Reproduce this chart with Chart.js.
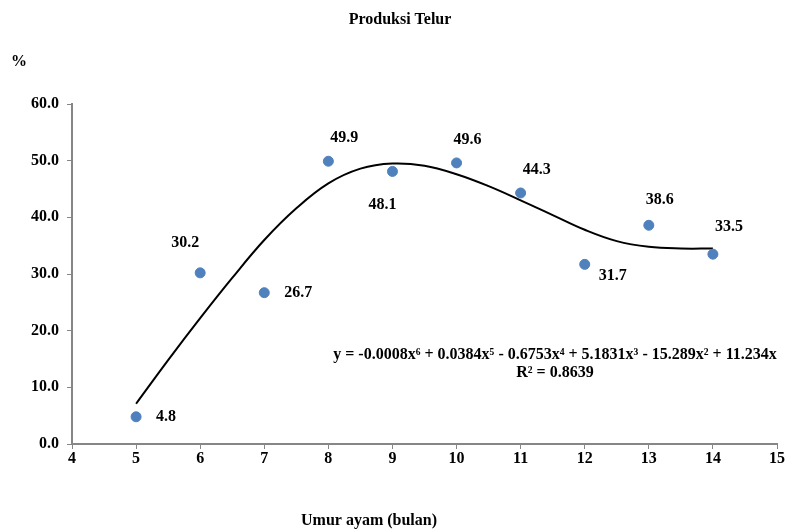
<!DOCTYPE html>
<html>
<head>
<meta charset="utf-8">
<script src="https://cdn.jsdelivr.net/npm/chart.js@4.4.1/dist/chart.umd.min.js"></script>
<style>
  html, body { margin: 0; padding: 0; background: #fff; }
  #wrap { width: 787px; height: 530px; }
</style>
</head>
<body>
<div id="wrap"><canvas id="chart"></canvas></div>
<script>
    // data
    const umur = [5, 6, 7, 8, 9, 10, 11, 12, 13, 14];
    const produksi = [4.8, 30.2, 26.7, 49.9, 48.1, 49.6, 44.3, 31.7, 38.6, 33.5];

    // polynomial trendline
    const trendX = [5, 5.5, 6, 6.5, 7, 7.5, 8, 8.5, 9, 9.5, 10, 10.5, 11, 11.5, 12, 12.5, 13, 13.5, 14];
    const trendY = [7.1, 14.8, 22.2, 29.3, 36.0, 41.6, 46.0, 48.6, 49.5, 49.1, 47.6, 45.5, 43.0, 40.4, 37.8, 35.8, 34.8, 34.5, 34.5];

    const xTicks = [4, 5, 6, 7, 8, 9, 10, 11, 12, 13, 14, 15];
    const yTicks = [0, 10, 20, 30, 40, 50, 60];

    // label offsets from each point (px)
    const labelOffsets = [[30, 0], [-15, -30], [34, 0], [16, -23], [-10, 33], [11, -23], [16, -23], [28, 11], [11, -25], [16, -27]];

    const FONT = 'bold 16px "Liberation Serif", "Times New Roman", serif';
    const axisColor = '#868686';

    const textPlugin = {
        id: 'texts',
        afterDraw(chart) {
            const ctx = chart.ctx;
            const xs = chart.scales.x, ys = chart.scales.y;
            ctx.save();
            ctx.fillStyle = '#000';
            ctx.font = FONT;
            ctx.textAlign = 'center';
            ctx.textBaseline = 'middle';
            ctx.fillText('Produksi Telur', 400, 20);
            ctx.fillText('%', 19, 62);
            ctx.fillText('Umur ayam (bulan)', 369, 521);

            // data labels
            produksi.forEach((v, i) => {
                const px = xs.getPixelForValue(umur[i]);
                const py = ys.getPixelForValue(v);
                const off = labelOffsets[i];
                ctx.fillText(v.toFixed(1), px + off[0], py + off[1]);
            });

            // trendline equation
            ctx.fillText('y = -0.0008x\u2076 + 0.0384x\u2075 - 0.6753x\u2074 + 5.1831x\u00B3 - 15.289x\u00B2 + 11.234x', 555, 355);
            ctx.fillText('R\u00B2 = 0.8639', 555, 373);
            ctx.restore();
        }
    };

    window.onload = function () {
        new Chart(document.getElementById('chart'), {
            type: 'scatter',
            data: {
                datasets: [{
                    label: 'Produksi',
                    data: umur.map((x, i) => ({ x: x, y: produksi[i] })),
                    backgroundColor: '#4F81BD',
                    borderColor: '#4F81BD',
                    pointRadius: 5,
                    order: 1
                }, {
                    label: 'Trend',
                    data: trendX.map((x, i) => ({ x: x, y: trendY[i] })),
                    showLine: true,
                    borderColor: '#000',
                    borderWidth: 2,
                    pointRadius: 0,
                    tension: 0.4,
                    fill: false,
                    order: 2
                }]
            },
            options: {
                responsive: true,
                maintainAspectRatio: false,
                animation: false,
                events: [],
                layout: { padding: { top: 104, right: 10, left: 0, bottom: 0 } },
                plugins: {
                    legend: { display: false },
                    tooltip: { enabled: false }
                },
                scales: {
                    x: {
                        type: 'linear',
                        min: 4, max: 15,
                        afterFit(s) { s.height = 86; },
                        afterBuildTicks(s) { s.ticks = xTicks.map(v => ({ value: v })); },
                        grid: { drawOnChartArea: false, drawTicks: true, tickLength: 5, color: axisColor },
                        border: { color: axisColor, width: 2 },
                        ticks: { color: '#000', font: { family: '"Liberation Serif", serif', size: 16, weight: 'bold' }, padding: 0, maxRotation: 0 }
                    },
                    y: {
                        min: 0, max: 60,
                        afterFit(s) { s.width = 72; },
                        afterBuildTicks(s) { s.ticks = yTicks.map(v => ({ value: v })); },
                        grid: { drawOnChartArea: false, drawTicks: true, tickLength: 5, color: axisColor },
                        border: { color: axisColor, width: 2 },
                        ticks: {
                            color: '#000',
                            font: { family: '"Liberation Serif", serif', size: 16, weight: 'bold' },
                            padding: 8,
                            callback: v => v.toFixed(1)
                        }
                    }
                }
            },
            plugins: [textPlugin]
        });
    };
</script>
</body>
</html>
